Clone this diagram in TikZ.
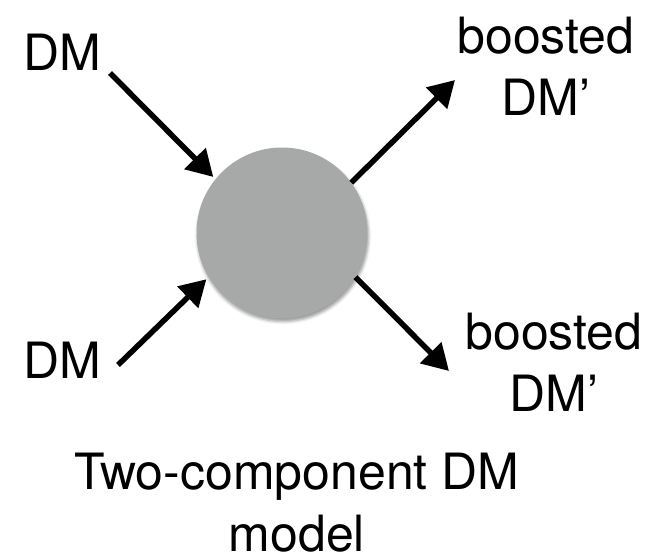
\documentclass[tikz,border=0pt]{standalone}
\usepackage{fontspec}
\setmainfont{TeX Gyre Heros}
\usetikzlibrary{arrows.meta,shadows.blur}
\definecolor{ballgray}{RGB}{166,169,168}
\tikzset{
  label text/.style={font=\fontsize{50}{62}\selectfont, inner sep=0pt, align=center},
  flow/.style={line width=5.5pt, -{Triangle[length=26pt,width=29pt]}},
  ball/.style={circle, fill=ballgray, minimum size=171pt, inner sep=0pt,
    blur shadow={shadow xshift=1pt, shadow yshift=-3pt, shadow blur radius=3pt, shadow opacity=40}}
}
\begin{document}
\begin{tikzpicture}[x=1pt, y=-1pt]
  \useasboundingbox (0,0) rectangle (654,558);

  % the interaction blob
  \node[ball] (ball) at (282,233) {};

  % incoming and outgoing particles (base = baseline of the last line)
  \node[label text, anchor=base west] (dmA) at (23,70) {DM};
  \node[label text, anchor=base west] (dmB) at (23,378) {DM};
  \node[label text, anchor=base] (bA) at (546,115) {boosted\\DM’};
  \node[label text, anchor=base] (bB) at (554,411) {boosted\\DM’};

  % caption
  \node[label text, anchor=base, text depth=0pt] (cap) at (297,551) {Two-component DM\\model};

  % free ends of the arrows
  \coordinate (inA) at (110,73);
  \coordinate (inB) at (118,365);
  \coordinate (outA) at (455,80);
  \coordinate (outB) at (449,371);

  \draw[flow, shorten >=3pt] (inA) -- (ball.141);
  \draw[flow, shorten >=3pt] (inB) -- (ball.211);
  \draw[flow] (ball.36) -- (outA);
  \draw[flow] (ball.-31) -- (outB);
\end{tikzpicture}
\end{document}
